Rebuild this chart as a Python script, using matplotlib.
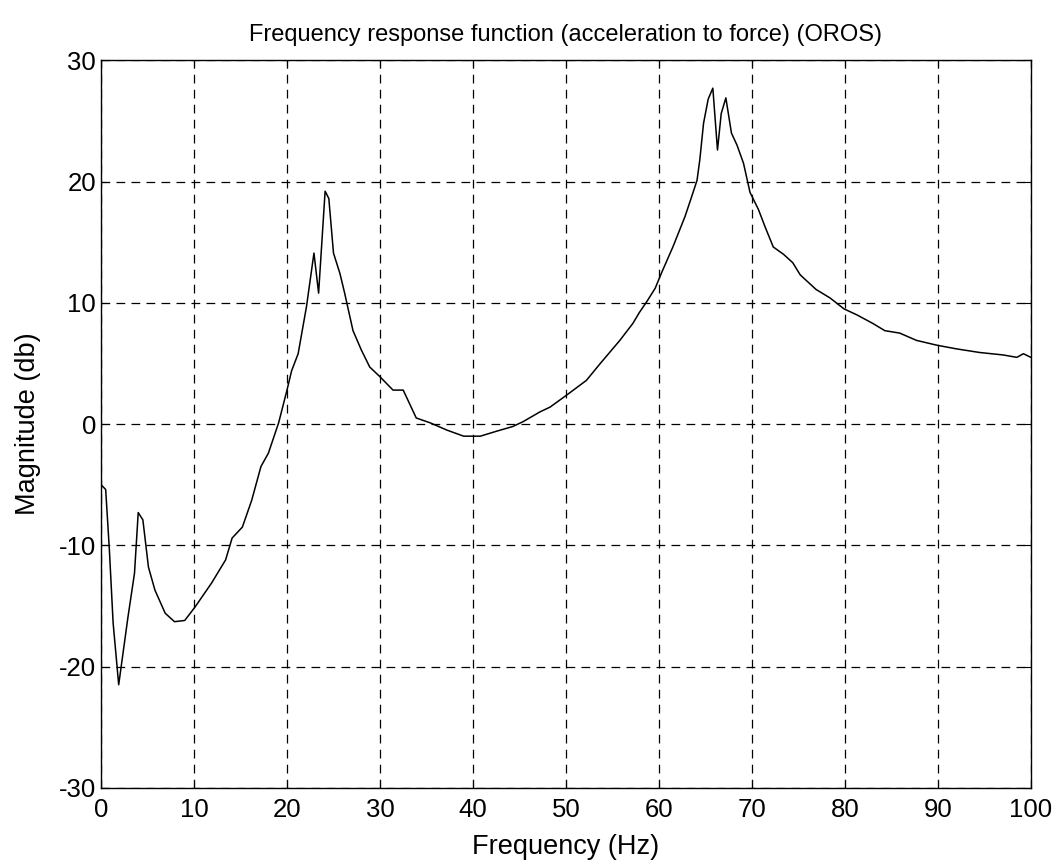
import matplotlib
matplotlib.use('Agg')
from matplotlib import pyplot as plt

# frequency (Hz) and magnitude (dB)
freq = [0.0, 0.5, 0.9, 1.3, 1.9, 2.9, 3.6, 4.0, 4.5, 5.1, 5.8, 6.9, 7.9, 9.0,
        10.1, 11.9, 13.4, 14.1, 15.2, 16.2, 17.2, 18.0, 19.1, 20.0, 20.5, 21.2,
        22.1, 22.9, 23.4, 24.1, 24.5, 25.0, 25.7, 26.2, 27.1, 28.0, 28.9, 30.0,
        31.4, 32.5, 33.9, 35.4, 37.2, 39.0, 40.8, 42.5, 44.3, 45.4, 47.2, 48.3,
        50.1, 52.2, 53.7, 55.8, 57.2, 57.9, 58.7, 59.6, 60.3, 61.5, 62.8, 63.5,
        64.1, 64.4, 64.8, 65.3, 65.8, 66.3, 66.7, 67.2, 67.8, 68.4, 69.1, 69.8,
        70.7, 71.4, 72.3, 73.4, 74.4, 75.2, 76.9, 78.4, 79.9, 81.3, 83.0, 84.3,
        85.9, 87.7, 89.9, 92.0, 94.5, 97.0, 98.5, 99.2, 100.0]
mag = [-5.0, -5.4, -10.4, -16.4, -21.5, -15.9, -12.3, -7.3, -7.9, -11.8, -13.7,
       -15.6, -16.3, -16.2, -15.1, -13.1, -11.2, -9.4, -8.5, -6.3, -3.5, -2.4,
       0.1, 2.8, 4.4, 5.8, 9.7, 14.1, 10.8, 19.2, 18.6, 14.1, 12.4, 10.8, 7.7,
       6.1, 4.7, 3.9, 2.8, 2.8, 0.5, 0.1, -0.5, -1.0, -1.0, -0.6, -0.2, 0.2,
       1.0, 1.4, 2.4, 3.6, 5.0, 6.9, 8.3, 9.2, 10.1, 11.2, 12.5, 14.6, 17.1,
       18.7, 20.1, 21.8, 24.8, 26.8, 27.7, 22.6, 25.6, 26.9, 24.0, 23.0, 21.5,
       19.1, 17.7, 16.3, 14.6, 14.0, 13.3, 12.3, 11.1, 10.4, 9.5, 9.0, 8.3,
       7.7, 7.5, 6.9, 6.5, 6.2, 5.9, 5.7, 5.5, 5.8, 5.5]

xticks = list(range(0, 101, 10))
yticks = list(range(-30, 31, 10))

plt.rcParams['font.family'] = ['Liberation Sans', 'DejaVu Sans']
plt.rcParams['axes.unicode_minus'] = False

fig = plt.figure(figsize=(10.59, 8.61), dpi=100)
ax = fig.add_axes([0.0954, 0.085, 0.878, 0.845])
ax.plot(freq, mag, color='black', linewidth=1.1)
ax.set_xlim(0, 100)
ax.set_ylim(-30, 30)
ax.set_xticks(xticks)
ax.set_yticks(yticks)
ax.grid(True, color='black', linestyle=(0, (7, 5)), linewidth=0.9)
ax.tick_params(direction='in', top=True, right=True, labelsize=18.5, length=6)
ax.tick_params(axis='x', pad=7)
for s in ax.spines.values():
    s.set_linewidth(1.0)
ax.set_xlabel('Frequency (Hz)', fontsize=19.5, labelpad=9)
ax.set_ylabel('Magnitude (db)', fontsize=19.5, labelpad=13)
ax.set_title('Frequency response function (acceleration to force) (OROS)', fontsize=17, pad=14)

plt.savefig('out.png', dpi=100)
